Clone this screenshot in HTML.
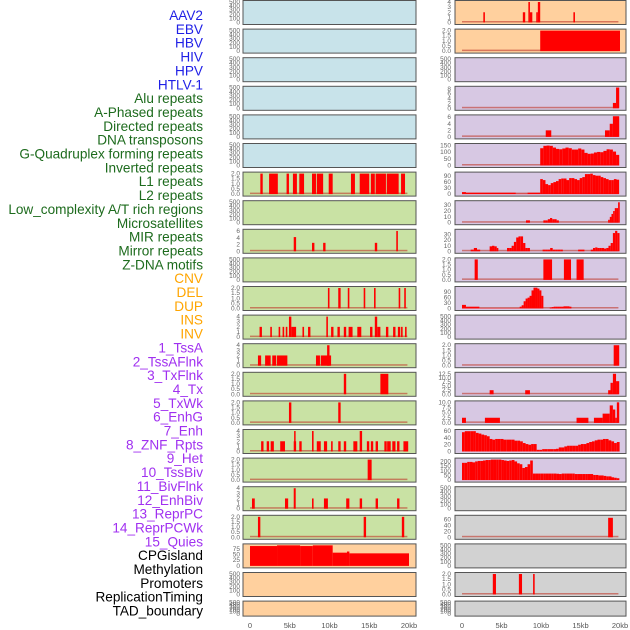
<!DOCTYPE html>
<html><head><meta charset="utf-8"><style>
body{margin:0;background:#fff;width:630px;height:630px;overflow:hidden}
svg{display:block}
</style></head><body>
<svg id="chart" width="630" height="630" viewBox="0 0 630 630" xmlns="http://www.w3.org/2000/svg"></svg>
<script>
// ---- labels ----
const trackLabels = ["AAV2","EBV","HBV","HIV","HPV","HTLV-1","Alu repeats","A-Phased repeats","Directed repeats","DNA transposons","G-Quadruplex forming repeats","Inverted repeats","L1 repeats","L2 repeats","Low_complexity A/T rich regions","Microsatellites","MIR repeats","Mirror repeats","Z-DNA motifs","CNV","DEL","DUP","INS","INV","1_TssA","2_TssAFlnk","3_TxFlnk","4_Tx","5_TxWk","6_EnhG","7_Enh","8_ZNF_Rpts","9_Het","10_TssBiv","11_BivFlnk","12_EnhBiv","13_ReprPC","14_ReprPCWk","15_Quies","CPGisland","Methylation","Promoters","ReplicationTiming","TAD_boundary"];
const labelGroups = [6,13,5,15,5];
const groupColors = ["#1f1fe6","#1d6b1d","#ffa500","#a030f0","#000000"];
const xTicksKb = [0,5,10,15,20];
const xTickLabels = ["0","5kb","10kb","15kb","20kb"];

// ---- segment data [startKb, endKb, value] ----
const segL6 = [[1.3,1.6,2],[2.4,3.5,2],[4.6,4.9,2],[5.4,5.9,2],[6.2,6.8,2],[7.8,8.3,2],[8.4,9.2,2],[9.9,10.4,2],[12.7,13.2,2],[13.8,15.0,2],[15.2,15.7,2],[15.8,17.1,2],[17.2,18.7,2],[19.0,19.5,2]];
const segL8 = [[5.5,5.8,4.2],[7.8,8.1,2.5],[9.2,9.5,2.5],[15.7,16.0,2.5],[18.4,18.6,6]];
const segL10 = [[9.8,10.0,2],[11.1,11.4,2],[12.3,12.5,2],[14.3,14.5,2],[15.6,15.8,2],[18.7,18.9,2],[19.4,19.6,2]];
const segL11 = [[1.2,1.5,2],[2.55,2.75,2],[3.6,3.8,2],[4.1,4.3,2],[4.5,4.7,2],[4.9,5.2,4],[5.2,5.8,2],[6.6,6.8,2],[7.3,7.6,2],[9.6,9.8,4],[10.2,10.5,2],[11.0,11.3,2],[11.8,12.1,2],[12.4,12.9,2],[13.5,14.0,2],[15.1,15.4,2],[15.7,16.0,4],[16.0,16.4,2],[17.1,17.4,2],[18.0,18.3,2],[18.6,18.9,2],[19.0,19.2,2],[19.5,19.7,2]];
const segL12 = [[1.0,1.4,2],[1.9,2.6,2],[2.8,3.3,2],[3.4,4.7,2],[8.3,8.8,2],[8.9,10.2,2],[9.7,10.0,4]];
const segL13 = [[11.8,12.1,2],[16.4,17.4,2]];
const segL14 = [[4.9,5.2,2],[11.1,11.4,2]];
const segL15 = [[1.4,1.7,2],[2.1,2.4,2],[2.6,3.0,2],[3.8,4.4,2],[5.5,5.8,2],[5.55,5.7,4],[6.2,6.5,2],[7.8,8.0,4],[8.4,8.9,2],[9.3,9.7,2],[10.2,10.4,2],[11.1,11.4,2],[11.8,12.1,2],[13.0,13.5,2],[13.8,14.1,4],[14.7,15.0,2],[15.2,15.5,2],[15.8,16.1,2],[16.9,17.2,2],[17.25,17.7,2],[17.9,18.3,2],[18.5,18.8,2],[19.3,19.9,2]];
const segL16 = [[14.8,15.3,2]];
const segL17 = [[0.25,0.6,2],[4.4,4.8,2],[5.5,5.75,4],[7.8,8.0,2],[9.3,9.8,2],[12.1,12.5,2],[13.8,14.1,2],[15.8,16.1,2],[18.5,18.8,2]];
const segL18 = [[1.0,1.3,2],[14.3,14.6,2],[19.1,19.4,2]];
const segL19 = [[0,3.4,87],[3.4,6.3,90],[6.3,7.9,87],[7.9,10.4,90],[10.4,12.2,58],[12.2,12.5,63],[12.5,20.0,55]];
const segR0 = [[2.7,2.9,2],[7.7,8.0,2],[8.4,8.6,4],[8.6,8.9,2],[9.4,9.6,2],[9.6,9.9,4],[14.1,14.3,2]];
const segR1 = [[9.9,20.0,2]];
const segR3 = [[19.1,19.5,2.2],[19.5,19.9,8.5]];
const segR4 = [[10.6,11.3,2],[18.1,18.7,2],[18.7,19.1,4],[19.1,19.9,6.3]];
const segR9 = [[1.6,2.0,2],[10.3,11.4,2],[12.9,13.8,2],[14.5,15.4,2]];
const segR12 = [[19.2,19.9,2]];
const segR13 = [[3.5,4.0,2.5],[8.0,8.6,2.5],[18.5,18.8,2.5],[18.8,19.1,7],[19.1,19.5,12.5],[19.5,19.9,8]];
const segR14 = [[0,0.5,2.5],[2.9,4.8,2.5],[14.5,16.0,2.5],[16.7,17.8,2.5],[17.8,18.7,4.5],[18.7,19.1,8.5],[19.1,19.4,6.5],[19.4,19.6,2.5],[19.6,19.9,10]];
const segR18 = [[18.5,19.1,65]];
const segR20 = [[3.9,4.3,2],[7.2,7.6,2],[9.0,9.2,2]];
const segR6a = [[0,0.5,10],[0.5,6.8,7],[6.8,8.3,2],[8.3,9.9,7]];
const segR10a = [[0,0.5,20],[0.5,2.2,10],[2.2,7.3,2]];
const segR8a = [[1.1,1.5,3],[1.5,1.9,6],[1.9,2.3,3],[3.5,3.8,9],[3.8,4.1,10],[4.1,4.4,9],[4.4,4.6,6],[14.7,15.5,3]];
const segR7a = [[8.1,8.6,4]];

// ---- binned data (startKb, stepKb, values) ----
const binR5 = [130,148,150,148,135,125,122,128,135,130,120,120,128,120,95,88,90,98,102,100,110,122,120,105,80];
const binR6 = [75,70,50,45,55,60,65,75,78,78,70,80,80,75,70,80,85,100,100,102,95,92,92,85,80,75,70,70,75,72];
const binR7 = [4,4,6,8,6,6,4];
const binR7b = [5,10,15,20,25,25,35];
const binR8 = [6,6,10,17,25,27,27,15,6,6];
const binR8b = [3,3,3,6,3,3,3,3];
const binR8c = [3,6,7,6,6,6,5,6,10,15,33,37,33];
const binR10 = [10,18,40,55,60,70,100,115,115,110,100,70];
const binR10b = [5,8,10,10,10,10,10,12,12,12,10];
const binR15 = [57,60,60,60,60,55,53,50,48,45,37,35,37,37,37,35,35,35,35,32,32,30,25,22,20,22,22,5,5,7,7,7,7,7,8,12,12,15,17,17,17,17,20,22,22,25,28,30,33,35,35,37,37,33,30,25,28];
const binR16 = [185,185,195,195,190,200,205,205,210,215,215,220,220,220,220,215,210,205,210,215,200,180,170,130,140,170,210,70,70,70,70,70,70,70,70,70,68,65,70,70,70,70,70,65,65,65,65,65,65,65,55,55,50,50,45,40,40,30,25,20];

// ---- tick sets ----
const tEmpty = ["0","100","200","300","400","500"];
const t2 = ["0.0","0.5","1.0","1.5","2.0"];
const t4 = ["0","1","2","3","4"];

function bins(start, step, vals){ return vals.map((v,i)=>[start+i*step, start+(i+1)*step, v]); }

const BLUE="#c8e3ea", GREEN="#c9e2a4", ORANGE="#ffd09e", PURPLE="#d7c8e3", GRAY="#d2d2d2";
// panel specs: col, row, bg, tick labels, max, segments, baseline
const panels = [];
function P(col,row,bg,ticks,tickVals,max,segs,base){ panels.push({col,row,bg,ticks,tickVals,max,segs,base}); }
const ev=[0,100,200,300,400,500], v2=[0,0.5,1,1.5,2], v4=[0,1,2,3,4];
for(let r=0;r<6;r++) P(0,r,BLUE,tEmpty,ev,510,[],false);
P(0,6,GREEN,t2,v2,2.05,segL6,true);
P(0,7,GREEN,tEmpty,ev,510,[],false);
P(0,8,GREEN,["0","2","4","6"],[0,2,4,6],6.2,segL8,true);
P(0,9,GREEN,tEmpty,ev,510,[],false);
P(0,10,GREEN,t2,v2,2.05,segL10,true);
P(0,11,GREEN,t4,v4,4.1,segL11,true);
P(0,12,GREEN,t4,v4,4.1,segL12,true);
P(0,13,GREEN,t2,v2,2.05,segL13,true);
P(0,14,GREEN,t2,v2,2.05,segL14,true);
P(0,15,GREEN,t4,v4,4.1,segL15,true);
P(0,16,GREEN,t2,v2,2.05,segL16,true);
P(0,17,GREEN,t4,v4,4.1,segL17,true);
P(0,18,GREEN,t2,v2,2.05,segL18,true);
P(0,19,ORANGE,["0","25","50","75"],[0,25,50,75],92,segL19,false);
P(0,20,ORANGE,tEmpty,ev,510,[],false);
P(0,21,ORANGE,tEmpty,ev,510,[],false);
P(1,0,ORANGE,t4,v4,4.1,segR0,true);
P(1,1,ORANGE,t2,v2,2.05,segR1,true);
P(1,2,PURPLE,tEmpty,ev,510,[],false);
P(1,3,PURPLE,["0","2","4","6","8"],[0,2,4,6,8],8.6,segR3,true);
P(1,4,PURPLE,["0","2","4","6"],[0,2,4,6],6.4,segR4,true);
P(1,5,PURPLE,["0","50","100","150"],[0,50,100,150],158,bins(9.9,0.4,binR5),true);
P(1,6,PURPLE,["0","30","60","90"],[0,30,60,90],105,segR6a.concat(bins(9.9,0.333,binR6)),true);
P(1,7,PURPLE,["0","10","20","30"],[0,10,20,30],36,segR7a.concat(bins(10.3,0.28,binR7),bins(18.5,0.21,binR7b)),true);
P(1,8,PURPLE,["0","10","20","30"],[0,10,20,30],38,segR8a.concat(bins(5.7,0.29,binR8),bins(10.2,0.32,binR8b),bins(16.3,0.28,binR8c)),true);
P(1,9,PURPLE,t2,v2,2.05,segR9,true);
P(1,10,PURPLE,["0","30","60","90"],[0,30,60,90],116,segR10a.concat(bins(7.3,0.25,binR10),bins(11.1,0.25,binR10b)),true);
P(1,11,PURPLE,tEmpty,ev,510,[],false);
P(1,12,PURPLE,t2,v2,2.05,segR12,true);
P(1,13,PURPLE,["0.0","2.5","5.0","7.5","10.0","12.5"],[0,2.5,5,7.5,10,12.5],12.8,segR13,true);
P(1,14,PURPLE,["0.0","2.5","5.0","7.5","10.0"],[0,2.5,5,7.5,10],10.2,segR14,true);
P(1,15,PURPLE,["0","20","40","60"],[0,20,40,60],62,bins(0,0.35,binR15),false);
P(1,16,PURPLE,["0","50","100","150","200"],[0,50,100,150,200],225,bins(0,0.332,binR16),false);
P(1,17,GRAY,tEmpty,ev,510,[],false);
P(1,18,GRAY,["0","20","40","60"],[0,20,40,60],70,segR18,true);
P(1,19,GRAY,tEmpty,ev,510,[],false);
P(1,20,GRAY,t2,v2,2.05,segR20,true);
P(1,21,GRAY,tEmpty,ev,510,[],false);

const NS="http://www.w3.org/2000/svg";
const svg=document.getElementById('chart');
function mk(tag,attrs,parent){const e=document.createElementNS(NS,tag);for(const k in attrs)e.setAttribute(k,attrs[k]);(parent||svg).appendChild(e);return e;}

// labels
let li=0;
labelGroups.forEach((n,g)=>{for(let k=0;k<n;k++){
  const t=mk('text',{x:203,y:15+li*13.85+5,'text-anchor':'end','font-family':'Liberation Sans, sans-serif','font-size':'13.6',fill:groupColors[g]});
  t.textContent=trackLabels[li];
  
  
  li++;}});

const colGeom=[{x:243,w:173,x0:250,pk:7.95,tx:240},{x:455,w:171,x0:462,pk:7.9,tx:451}];
function xs(c,kb){return colGeom[c].x0+kb*colGeom[c].pk;}

panels.forEach(p=>{
  const g=colGeom[p.col];
  const top=0.5+p.row*28.6, h=(p.row===21?15:24);
  const grp=mk('g',{});
  
  
  mk('rect',{x:g.x,y:top,width:g.w,height:h,fill:p.bg,stroke:'#555','stroke-width':1},grp);
  const yb=top+h-2, yt=top+1;
  const ys=v=>yb-(v/p.max)*(yb-yt);
  p.ticks.forEach((lab,i)=>{
    const t=mk('text',{x:g.tx,y:ys(p.tickVals[i])+2,'text-anchor':'end','font-family':'Liberation Sans, sans-serif','font-size':'6.5',fill:'#666'},grp);
    t.textContent=lab;
    
    
  });
  if(p.base){
    const b=mk('rect',{x:xs(p.col,0),y:yb-1.5,width:xs(p.col,19.8)-xs(p.col,0),height:1.5,fill:'#c0392b',opacity:0.6},grp);
    
    
  }
  p.segs.forEach(s=>{
    const x1=xs(p.col,s[0]), x2=xs(p.col,s[1]);
    const r=mk('rect',{x:x1,y:ys(s[2]),width:Math.max(1.5,x2-x1),height:yb-ys(s[2]),fill:'#ff0000'},grp);
    
    
  });
});

// x axes
[0,1].forEach(c=>{xTicksKb.forEach((kb,i)=>{
  const t=mk('text',{x:xs(c,kb),y:628,'text-anchor':'middle','font-family':'Liberation Sans, sans-serif','font-size':'7.5',fill:'#555'});
  t.textContent=xTickLabels[i];
  
  
});});
</script>
</body></html>
